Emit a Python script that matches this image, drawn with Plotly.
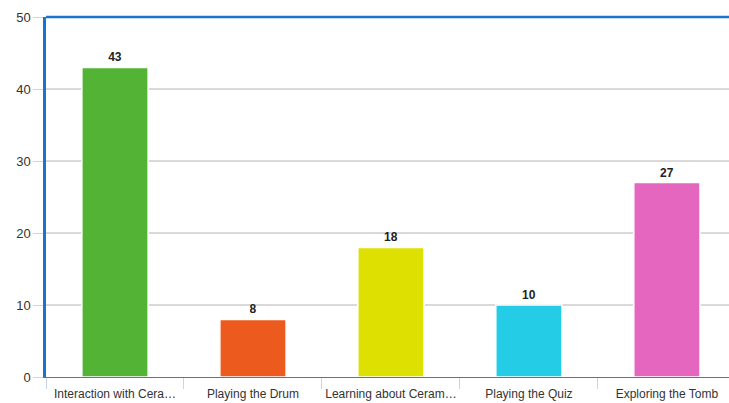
import plotly.graph_objects as go

categories = ["Interaction with Cera…", "Playing the Drum", "Learning about Ceram…", "Playing the Quiz", "Exploring the Tomb"]
values = [43, 8, 18, 10, 27]
colors = ["#52b335", "#ec5a1e", "#dde000", "#25cce5", "#e466bf"]
y_ticks = [0, 10, 20, 30, 40, 50]

fig = go.Figure(go.Bar(
    x=categories, y=values,
    marker=dict(color=colors, line=dict(color="white", width=1.5)),
    width=0.48,
    text=[str(v) for v in values], textposition="outside",
    textfont=dict(family="Liberation Sans, Arial", size=12, color="#222222", weight="bold"),
    cliponaxis=False,
))

fig.update_layout(
    width=729, height=403,
    margin=dict(l=46, r=0, t=17, b=26),
    paper_bgcolor="white", plot_bgcolor="white",
    showlegend=False,
    font=dict(family="Liberation Sans, Arial", size=12, color="#333333"),
    xaxis=dict(
        range=[-0.5, 4.45], automargin=False, tickangle=0,
        showline=True, linecolor="#2f7fd4", linewidth=1,
        ticks="outside", tickson="boundaries", ticklen=11, tickcolor="#c9d6e6", tickwidth=1,
        ticklabelstandoff=6,
        showgrid=False, tickfont=dict(size=12, color="#333333"),
    ),
    yaxis=dict(
        range=[0, 50], tickvals=y_ticks, automargin=False,
        showline=True, linecolor="#1a73d0", linewidth=2.5,
        ticks="outside", ticklen=10, tickcolor="#c9d6e6", tickwidth=1,
        showgrid=True, gridcolor="#d9d9d9", gridwidth=1.5,
        zeroline=False, tickfont=dict(size=13, color="#333333"),
    ),
)

fig.add_shape(type="line", xref="paper", yref="paper", x0=0, x1=1, y0=1, y1=1,
              line=dict(color="#1a73d0", width=2.5))

fig.write_html("out.html")
